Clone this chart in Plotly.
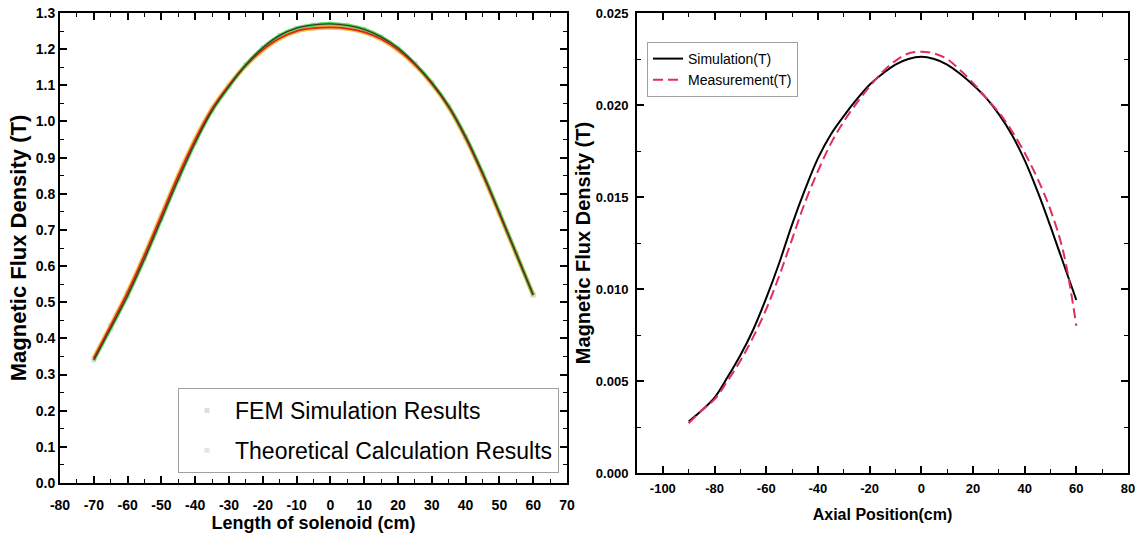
import plotly.graph_objects as go

# ---------------- data: left panel ----------------
solenoid_x = [-70, -65, -60, -55, -50, -45, -40, -35, -30, -25, -20, -15, -10, -5,
              0, 5, 10, 15, 20, 25, 30, 35, 40, 45, 50, 55, 60]
theory_b = [0.345, 0.435, 0.527, 0.63, 0.74, 0.85, 0.95, 1.035, 1.10, 1.155, 1.198, 1.23, 1.25, 1.258,
            1.26, 1.257, 1.247, 1.228, 1.198, 1.157, 1.105, 1.04, 0.955, 0.855, 0.745, 0.633, 0.52]
fem_b = [0.34, 0.428, 0.518, 0.62, 0.73, 0.84, 0.942, 1.03, 1.097, 1.157, 1.204, 1.238, 1.258, 1.267,
         1.27, 1.266, 1.255, 1.234, 1.203, 1.16, 1.107, 1.042, 0.958, 0.858, 0.748, 0.634, 0.52]

# ---------------- data: right panel ----------------
axial_x = [-90, -85, -80, -75, -70, -65, -60, -55, -50, -45, -40, -35, -30, -25, -20, -15,
           -10, -5, 0, 5, 10, 15, 20, 25, 30, 35, 40, 45, 50, 55, 60]
sim_b = [0.0028, 0.0034, 0.0041, 0.0052, 0.0064, 0.0078, 0.0095, 0.0114, 0.0135, 0.0154,
         0.0171, 0.0184, 0.0194, 0.0203, 0.0211, 0.0217, 0.0222, 0.0225, 0.02262, 0.0225,
         0.0222, 0.0217, 0.0211, 0.0204, 0.0195, 0.0184, 0.0170, 0.0153, 0.0134, 0.0114, 0.0094]
meas_b = [0.0027, 0.0034, 0.0040, 0.0050, 0.0061, 0.0074, 0.0089, 0.0107, 0.0127, 0.0147,
          0.0164, 0.0179, 0.0191, 0.0201, 0.0210, 0.0218, 0.0224, 0.0228, 0.0229, 0.0228,
          0.0225, 0.0219, 0.0212, 0.0204, 0.0196, 0.0186, 0.0174, 0.0160, 0.0143, 0.0120, 0.0080]

left_x_ticks = list(range(-80, 71, 10))
right_x_ticks = list(range(-100, 81, 20))

FONT = "Liberation Sans"
W, H = 1138, 539
PLOT_TOP, PLOT_BOTTOM = 13, 483
PH = PLOT_BOTTOM - PLOT_TOP

fig = go.Figure()

# legend-only faint markers (left panel)
fig.add_trace(go.Scatter(x=solenoid_x, y=fem_b, mode="markers", name="FEM Simulation Results",
                         marker=dict(symbol="square", size=5, color="rgba(200,200,200,0.6)"),
                         legendgroup="fem", xaxis="x", yaxis="y", legend="legend"))
fig.add_trace(go.Scatter(x=solenoid_x, y=theory_b, mode="markers", name="Theoretical Calculation Results",
                         marker=dict(symbol="square", size=5, color="rgba(215,215,195,0.6)"),
                         legendgroup="theo", xaxis="x", yaxis="y", legend="legend"))
# coloured curve band
fig.add_trace(go.Scatter(x=solenoid_x, y=theory_b, mode="lines", line=dict(color="#f0c040", width=4.5, shape="spline"),
                         showlegend=False, hoverinfo="skip", xaxis="x", yaxis="y"))
fig.add_trace(go.Scatter(x=solenoid_x, y=fem_b, mode="lines", line=dict(color="#55d455", width=3.5, shape="spline"),
                         showlegend=False, hoverinfo="skip", xaxis="x", yaxis="y"))
fig.add_trace(go.Scatter(x=solenoid_x, y=theory_b, mode="lines", line=dict(color="#e02020", width=1.8, shape="spline"),
                         showlegend=False, hoverinfo="skip", xaxis="x", yaxis="y"))
fig.add_trace(go.Scatter(x=solenoid_x, y=fem_b, mode="lines", line=dict(color="#3b3a28", width=1.3, shape="spline"),
                         showlegend=False, hoverinfo="skip", xaxis="x", yaxis="y"))

# right panel
fig.add_trace(go.Scatter(x=axial_x, y=sim_b, mode="lines", name="Simulation(T)",
                         line=dict(color="black", width=2, shape="spline"),
                         xaxis="x2", yaxis="y2", legend="legend2"))
fig.add_trace(go.Scatter(x=axial_x, y=meas_b, mode="lines", name="Measurement(T)",
                         line=dict(color="#e0305a", width=2, dash="10px,5px", shape="spline"),
                         xaxis="x2", yaxis="y2", legend="legend2"))


def axis(**kw):
    base = dict(showline=True, linecolor="black", linewidth=2, mirror="ticks",
                ticks="inside", ticklen=7, tickwidth=1.5, tickcolor="black",
                showgrid=False, zeroline=False, automargin=False,
                ticklabeloverflow="allow",
                tickfont=dict(family=FONT, size=14, color="black", weight="bold"))
    base.update(kw)
    return base


fig.update_layout(
    width=W, height=H, autosize=False,
    margin=dict(l=0, r=0, t=PLOT_TOP, b=H - PLOT_BOTTOM),
    paper_bgcolor="white", plot_bgcolor="white",
    font=dict(family=FONT, color="black"),
    xaxis=axis(domain=[60 / W, 567 / W], range=[-80, 70],
               tickvals=left_x_ticks, ticktext=[str(v) for v in left_x_ticks],
               ticklabelstandoff=8,
               minor=dict(ticks="inside", ticklen=4, tickwidth=1, tickcolor="black", dtick=5),
               title=dict(text="<b>Length of solenoid (cm)</b>", standoff=4,
                          font=dict(family=FONT, size=18, color="black"))),
    yaxis=axis(domain=[0, 1], range=[0, 1.3], dtick=0.1, tickformat=".1f",
               ticklabelstandoff=0,
               minor=dict(ticks="inside", ticklen=4, tickwidth=1, tickcolor="black", dtick=0.05),
               title=dict(text="<b>Magnetic Flux Density (T)</b>", standoff=3,
                          font=dict(family=FONT, size=22, color="black"))),
    xaxis2=axis(domain=[637 / W, 1128 / W], range=[-110, 80],
                tickvals=right_x_ticks, ticktext=[str(v) for v in right_x_ticks],
                anchor="y2", ticklabelstandoff=2,
                tickfont=dict(family=FONT, size=13, color="black", weight="bold"),
                minor=dict(ticks="inside", ticklen=4, tickwidth=1, tickcolor="black", dtick=10),
                title=dict(text="<b>Axial Position(cm)</b>", standoff=14,
                           font=dict(family=FONT, size=16, color="black"))),
    yaxis2=axis(domain=[10 / PH, 1], range=[0, 0.025], dtick=0.005, tickformat=".3f",
                anchor="x2", ticklabelstandoff=4,
                tickfont=dict(family=FONT, size=13, color="black", weight="bold"),
                minor=dict(ticks="inside", ticklen=4, tickwidth=1, tickcolor="black", dtick=0.0025),
                title=dict(text="<b>Magnetic Flux Density (T)</b>", standoff=0,
                           font=dict(family=FONT, size=20, color="black"))),
    legend=dict(x=178 / W, y=(PLOT_BOTTOM - 388) / PH, xref="paper", yref="paper",
                xanchor="left", yanchor="top", bgcolor="white",
                bordercolor="#a0a0a0", borderwidth=1, tracegroupgap=7,
                traceorder="grouped", itemwidth=46,
                font=dict(family=FONT, size=23, color="black")),
    legend2=dict(x=647 / W, y=(PLOT_BOTTOM - 42) / PH, xref="paper", yref="paper",
                 xanchor="left", yanchor="top", bgcolor="white",
                 bordercolor="#a0a0a0", borderwidth=1, tracegroupgap=0,
                 font=dict(family=FONT, size=14, color="black")),
    showlegend=True,
)

# remove the browser's default 8px body margin so the figure fills the window exactly
fig.write_html("out.html", config={"displayModeBar": False},
               post_script="document.body.style.margin='0';")
